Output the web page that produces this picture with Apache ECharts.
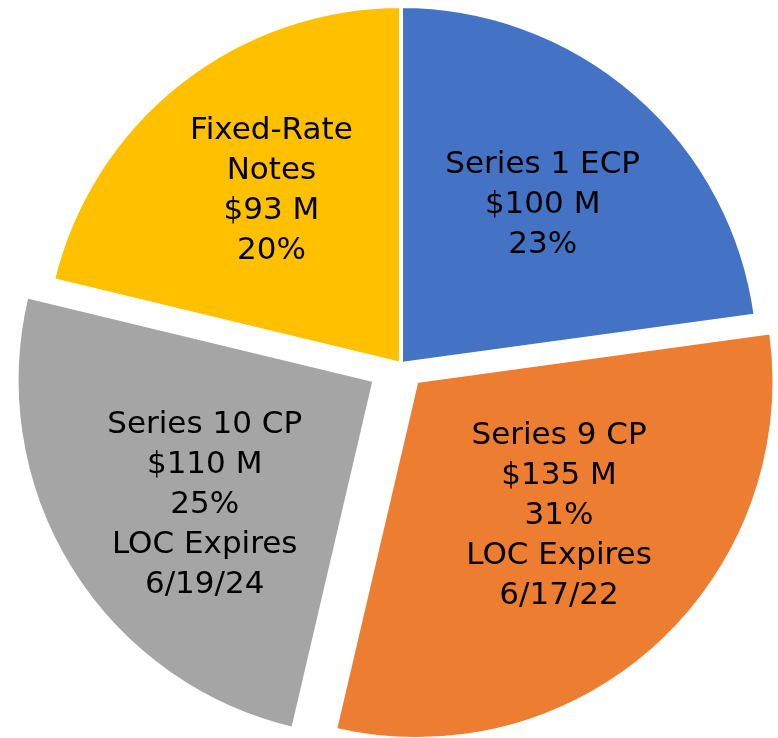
<!DOCTYPE html>
<html><head><meta charset="utf-8">
<script src="https://cdn.jsdelivr.net/npm/echarts@6/dist/echarts.min.js"></script>
<style>html,body{margin:0;padding:0;background:#fff}#c{width:778px;height:738px}</style>
</head><body><div id="c"></div>
<script>
// ---- data ----
const categories = ['Series 1 ECP', 'Series 9 CP', 'Series 10 CP', 'Fixed-Rate Notes'];
const labelNames = ['Series 1 ECP', 'Series 9 CP', 'Series 10 CP', 'Fixed-Rate\nNotes'];
const values = [100, 135, 110, 93];
const amountLabels = ['$100 M', '$135 M', '$110 M', '$93 M'];
const percentLabels = ['23%', '31%', '25%', '20%'];
const noteLabels = ['', 'LOC Expires\n6/17/22', 'LOC Expires\n6/19/24', ''];

// ---- style ----
const colors = ['#4472C4', '#ED7D31', '#A5A5A5', '#FFC000'];
const explodeGroup = [0, 0, 1, 0];
const selectedFlags = [false, true, true, false];
const groupOffsets = [23, 31];
const labelShift = [[22, -22], [20, 0], [-15, 29], [-17, -30]];

function formatter(p) {
  const i = p.dataIndex;
  return [labelNames[i], amountLabels[i], percentLabels[i], noteLabels[i]].filter(Boolean).join('\n');
}
function labelLayout(p) {
  const s = labelShift[p.dataIndex];
  return { dx: s[0], dy: s[1] };
}
function buildSeries(g) {
  return {
    type: 'pie',
    center: [401, 364],
    radius: 358,
    startAngle: 90,
    clockwise: true,
    selectedMode: 'multiple',
    selectedOffset: groupOffsets[g],
    silent: true,
    avoidLabelOverlap: false,
    emphasis: { disabled: true },
    label: {
      show: true, position: 'inside', color: '#000', fontFamily: 'DejaVu Sans',
      fontSize: 31, lineHeight: 40, align: 'center', textBorderWidth: 0, formatter: formatter
    },
    labelLine: { show: false },
    labelLayout: labelLayout,
    data: categories.map(function (n, i) {
      const mine = explodeGroup[i] === g;
      return {
        name: n,
        value: values[i],
        selected: mine && selectedFlags[i],
        itemStyle: mine ? { color: colors[i], borderColor: '#fff', borderWidth: 4 }
                        : { color: 'rgba(0,0,0,0)', borderWidth: 0 },
        label: { show: mine }
      };
    })
  };
}
const chart = echarts.init(document.getElementById('c'));
chart.setOption({
  animation: false,
  backgroundColor: '#fff',
  series: [buildSeries(0), buildSeries(1)]
});
</script>
</body></html>
